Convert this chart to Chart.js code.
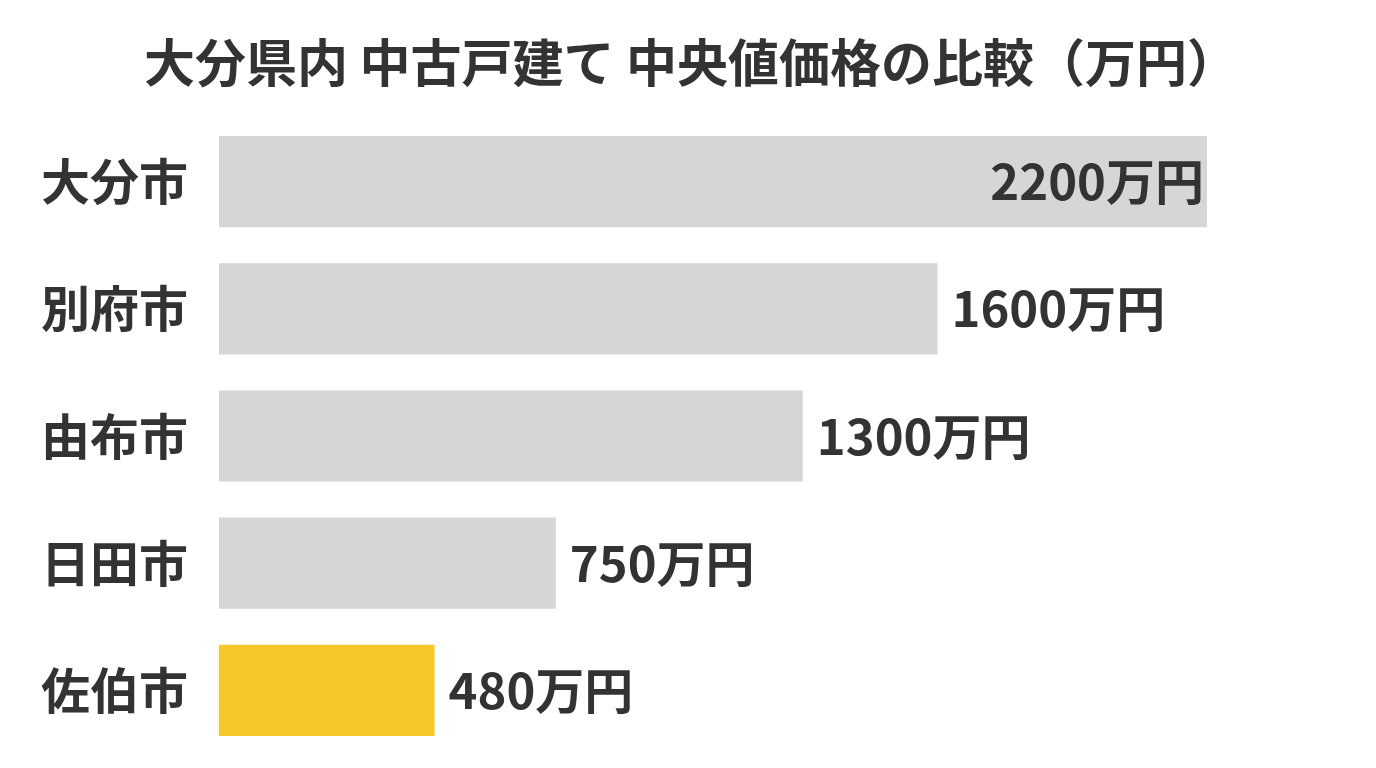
<!DOCTYPE html>
<html lang="ja">
<head>
<meta charset="utf-8">
<script src="https://cdn.jsdelivr.net/npm/chart.js@4.4.1/dist/chart.umd.min.js"></script>
<style>
  html, body { margin: 0; padding: 0; background: #fff; }
  #wrap { width: 1376px; height: 768px; }
</style>
</head>
<body>
<div id="wrap"><canvas id="chart" width="1376" height="768"></canvas></div>
<script>
const cities = ['大分市', '別府市', '由布市', '日田市', '佐伯市'];
const prices = [2200, 1600, 1300, 750, 480];
const barColors = ['#d6d6d6', '#d6d6d6', '#d6d6d6', '#d6d6d6', '#f5c828'];
const unit = '万円';
const chartTitle = '大分県内 中古戸建て 中央値価格の比較（万円）';

const FONT = '"Noto Sans CJK JP", "Noto Sans", sans-serif';
const TEXT = '#333333';

// value labels at the bar ends (inside for the longest bar) + the title
const valueLabels = {
  id: 'valueLabels',
  afterDatasetsDraw(c) {
    const ctx = c.ctx;
    const meta = c.getDatasetMeta(0);
    ctx.save();
    ctx.font = 'bold 49px ' + FONT;
    ctx.fillStyle = TEXT;
    ctx.textBaseline = 'middle';
    meta.data.forEach((bar, i) => {
      const txt = prices[i] + unit;
      if (prices[i] === Math.max(...prices)) {
        ctx.textAlign = 'right';
        ctx.fillText(txt, bar.x - 3, bar.y);
      } else {
        ctx.textAlign = 'left';
        ctx.fillText(txt, bar.x + 14, bar.y);
      }
    });
    ctx.font = 'bold 51px ' + FONT;
    ctx.textAlign = 'center';
    ctx.fillText(chartTitle, 691, 63);
    ctx.restore();
  }
};

new Chart(document.getElementById('chart'), {
  type: 'bar',
  data: {
    labels: cities,
    datasets: [{
      data: prices,
      backgroundColor: barColors,
      borderWidth: 0,
      barPercentage: 0.717,
      categoryPercentage: 1
    }]
  },
  options: {
    indexAxis: 'y',
    responsive: false,
    animation: false,
    layout: { padding: { left: 0, right: 169, top: 118, bottom: 14 } },
    plugins: {
      legend: { display: false },
      tooltip: { enabled: false },
      title: { display: false }
    },
    scales: {
      x: { display: false, min: 0, max: 2200 },
      y: {
        grid: { display: false, drawTicks: false },
        border: { display: false },
        ticks: {
          color: TEXT,
          padding: 31,
          font: { family: FONT, size: 49, weight: 'bold' }
        },
        afterFit(s) {
          s.width = 219;
          s.paddingTop = 0;
          s.paddingBottom = 0;
        }
      }
    }
  },
  plugins: [valueLabels]
});
</script>
</body>
</html>
